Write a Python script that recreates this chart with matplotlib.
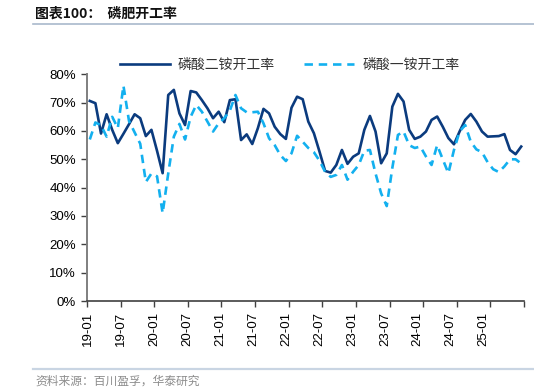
import matplotlib
matplotlib.use("Agg")
import matplotlib.pyplot as plt
import numpy as np
from matplotlib.ticker import FuncFormatter

# ── Data ─────────────────────────────────────────────────────────────────────
months = [f"{y:02d}-{m:02d}" for y in range(19, 26) for m in range(1, 13)][:78]

dap_rate = [70.6, 69.8, 59.1, 65.9, 60.4, 55.7, 59.0, 62.4, 65.9, 64.5, 58.2, 60.4,
            53.0, 45.1, 72.7, 74.5, 66.2, 62.1, 74.1, 73.6, 70.9, 68.0, 64.5, 66.8,
            63.1, 70.9, 71.2, 56.8, 58.8, 55.4, 61.0, 67.8, 66.2, 61.5, 58.9, 57.2,
            68.2, 72.1, 71.2, 63.3, 59.2, 52.7, 45.9, 45.3, 48.0, 53.3, 48.4, 50.9,
            52.1, 60.4, 65.3, 59.8, 48.6, 52.1, 68.6, 73.1, 70.4, 60.4, 57.2, 58.0,
            59.8, 63.9, 65.1, 61.5, 57.5, 55.3, 59.8, 63.9, 66.0, 63.3, 59.8, 58.0,
            58.1, 58.2, 58.9, 53.3, 51.8, 54.5]

map_rate = [57.0, 63.0, 62.0, 58.0, 65.0, 61.0, 76.0, 63.5, 59.5, 55.5, 42.0, 45.0,
            44.0, 31.0, 45.0, 58.0, 62.5, 57.0, 65.0, 69.2, 66.8, 63.3, 59.8, 62.7,
            64.5, 67.2, 72.7, 68.0, 66.6, 66.6, 66.8, 62.7, 57.4, 55.0, 51.5, 49.4,
            52.1, 58.3, 56.2, 54.0, 52.5, 49.5, 45.6, 43.8, 44.5, 48.0, 42.8, 45.6,
            48.0, 53.0, 53.3, 45.0, 38.0, 33.5, 47.0, 58.6, 59.8, 55.0, 54.0, 54.5,
            51.0, 48.0, 55.0, 50.0, 45.1, 53.3, 59.8, 62.1, 56.2, 53.5, 52.5, 49.0,
            46.5, 45.5, 47.5, 50.0, 50.0, 48.5]

tick_labels = months[::6]

NAVY = "#0b3b7e"
SKY = "#13b0ef"
CJK = ["Noto Sans CJK SC", "DejaVu Sans"]
NUM = ["Liberation Sans", "DejaVu Sans"]

# ── Figure ───────────────────────────────────────────────────────────────────
fig = plt.figure(figsize=(5.34, 3.92), dpi=100)
ax = fig.add_axes([87 / 534, 1 - 301 / 392, 437 / 534, (301 - 74.3) / 392])

x = np.arange(len(months))
ax.plot(x, np.array(dap_rate) / 100, color=NAVY, lw=1.9, label="磷酸二铵开工率")
ax.plot(x, np.array(map_rate) / 100, color=SKY, lw=1.9, ls=(0, (3.2, 2.2)),
        label="磷酸一铵开工率")

ax.set_xlim(-0.5, len(months) - 0.5)
ax.set_ylim(0, 0.8)
ax.set_yticks(np.arange(0, 0.81, 0.1))
ax.yaxis.set_major_formatter(FuncFormatter(lambda v, _: f"{v * 100:.0f}%"))

# labels every 6 months, tick marks between categories
ax.set_xticks(np.linspace(-0.27, 70.3, len(tick_labels)))
ax.set_xticklabels(tick_labels, rotation=90)
ax.set_xticks(np.arange(-0.5, len(months), 6), minor=True)
ax.tick_params(axis="x", which="major", length=0, pad=8)
ax.tick_params(axis="x", which="minor", length=4, width=1, color="#404040", direction="out")
ax.tick_params(axis="y", length=4, width=1, color="#404040", direction="out", pad=4)

for lab in ax.get_xticklabels() + ax.get_yticklabels():
    lab.set_family(NUM)
    lab.set_fontsize(9.5)
    lab.set_color("#000000")

for side in ("top", "right"):
    ax.spines[side].set_visible(False)
ax.spines["left"].set_color("#7f7f7f")
ax.spines["left"].set_linewidth(1.4)
ax.spines["bottom"].set_color("#404040")
ax.spines["bottom"].set_linewidth(1.2)

leg = ax.legend(loc="center left", bbox_to_anchor=(120 / 534, 1 - 65 / 392),
                bbox_transform=fig.transFigure, ncol=2, frameon=False,
                borderpad=0, borderaxespad=0,
                handlelength=3.6, handletextpad=0.58, columnspacing=2.1,
                prop={"family": CJK, "size": 10})
for t in leg.get_texts():
    t.set_color("#333333")

# header / footer
fig.text(35 / 534, 1 - 14 / 392, "图表100：  磷肥开工率", family=CJK, fontsize=10,
         fontweight="bold", va="center", ha="left", color="#111111")
fig.add_artist(plt.Line2D([33 / 534, 1], [1 - 23.5 / 392] * 2, color="#a9b9cc", lw=1.2))
fig.add_artist(plt.Line2D([33 / 534, 1], [1 - 368.5 / 392] * 2, color="#c9d5e3", lw=1.6))
fig.text(35 / 534, 1 - 381 / 392, "资料来源：百川盈孚，华泰研究", family=CJK, fontsize=8.5,
         va="center", ha="left", color="#8c8c8c")

fig.savefig("out.png", dpi=100)
